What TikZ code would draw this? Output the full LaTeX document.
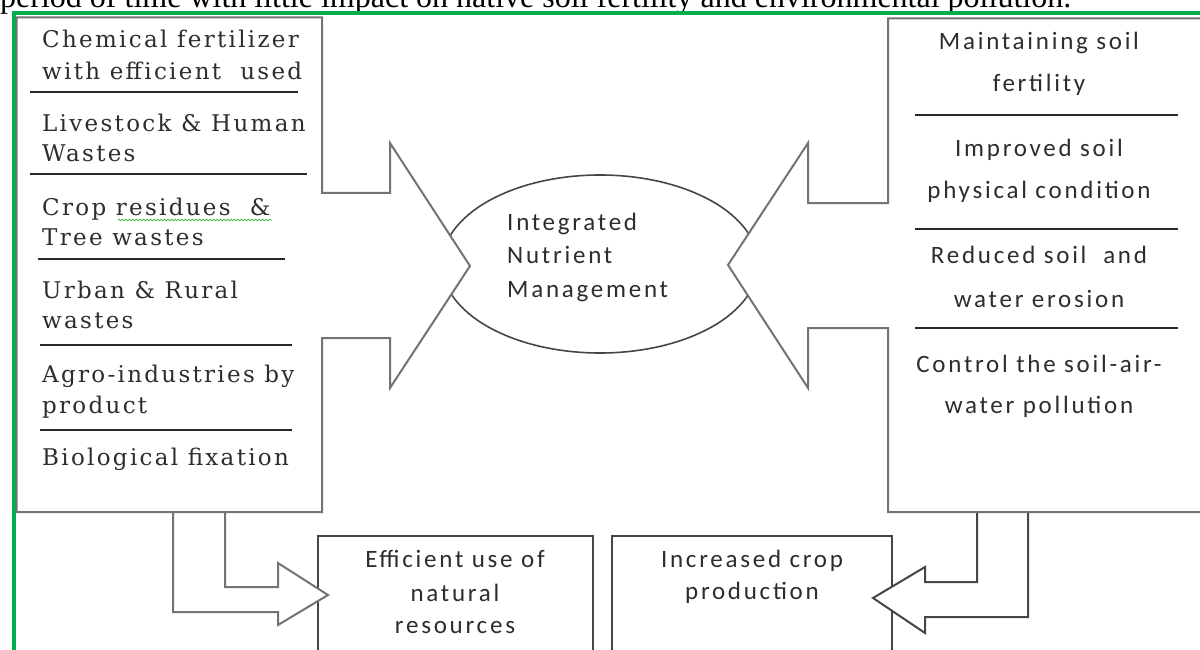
\documentclass[tikz,border=0pt]{standalone}
\usepackage{fontspec}
\setmainfont{Liberation Serif}
\newfontfamily\lserif[LetterSpace=10]{DejaVu Serif}
\newfontfamily\rsans[LetterSpace=11]{Carlito}
\usetikzlibrary{shapes.geometric,decorations.pathmorphing}
\definecolor{frameg}{RGB}{0,176,80}
\definecolor{boxg}{RGB}{115,115,115}
\definecolor{darkg}{RGB}{70,70,70}
\definecolor{sepg}{RGB}{40,40,40}
\definecolor{txtg}{RGB}{45,45,45}
\begin{document}
\begin{tikzpicture}[x=1pt,y=-1pt,
  lt/.style={font=\lserif\fontsize{23}{27}\selectfont, text=txtg, anchor=base west, inner sep=0pt},
  rt/.style={font=\rsans\fontsize{25}{29}\selectfont, text=txtg, anchor=base, inner sep=0pt},
  ct/.style={rt, anchor=base west},
  boxline/.style={draw=boxg, line width=2pt, fill=white, line join=miter},
  dboxline/.style={draw=darkg, line width=2pt, fill=white, line join=miter},
  sepline/.style={draw=sepg, line width=2pt},
  frameline/.style={draw=frameg, line width=3.6pt}]
\useasboundingbox (0,0) rectangle (1200,650);
\clip (0,0) rectangle (1200,650);
% clipped caption line above the frame
\node[font=\fontsize{32}{35}\selectfont, anchor=base west, inner sep=0pt] (cap) at (0,8) {period of time with little impact on native soil fertility and environmental pollution.};
% green frame
\draw[frameline] (13.8,660) -- (13.8,13.3) -- (1210,13.3);
% central ellipse
\node[draw=darkg, line width=1.6pt, ellipse, minimum width=316pt, minimum height=178pt, inner sep=0pt] (inm) at (600,264) {};
% bottom boxes
\draw[dboxline] (318,660) -- (318,536) -- (593,536) -- (593,660);
\draw[dboxline] (612,660) -- (612,536) -- (892,536) -- (892,660);
\coordinate (eff) at (318,536);
\coordinate (inc) at (892,536);
% bent arrows at the bottom
\filldraw[boxline] (173,512) -- (173,612) -- (278,612) -- (278,625) -- (328,595) -- (278,563) -- (278,587) -- (225,587) -- (225,512);
\filldraw[dboxline] (977,512) -- (977,582) -- (925,582) -- (925,567) -- (873,598) -- (925,633) -- (925,617) -- (1028,617) -- (1028,512);
% left box with its block arrow
\filldraw[boxline] (322,193) -- (322,17.3) -- (16.7,17.3) -- (16.7,512) -- (322,512) -- (322,338) -- (390,338) -- (390,388) -- (470,266) -- (390,143) -- (390,193) -- cycle;
% right box with its block arrow
\filldraw[boxline] (888,203) -- (888,18.3) -- (1210,18.3) -- (1210,512) -- (888,512) -- (888,328) -- (808,328) -- (808,388) -- (728,265) -- (808,143) -- (808,203) -- cycle;
% separators, left
\draw[sepline] (30,92) -- (298,92);
\draw[sepline] (30,174) -- (307,174);
\draw[sepline] (38,259) -- (285,259);
\draw[sepline] (40,345) -- (292,345);
\draw[sepline] (40,430) -- (292,430);
% separators, right
\draw[sepline] (915,115) -- (1178,115);
\draw[sepline] (915,229) -- (1178,229);
\draw[sepline] (915,328) -- (1178,328);
% left texts
\node[lt] (l1a) at (42,48) {Chemical fertilizer};
\node[lt] (l1b) at (42,80) {with efficient~ used};
\node[lt] (l2a) at (42,132) {Livestock \& Human};
\node[lt] (l2b) at (42,162) {Wastes};
\node[lt] (l3a) at (42,215) {Crop residues~ \&};
\node[lt] (l3b) at (42,245) {Tree wastes};
\node[lt] (l4a) at (42,298) {Urban \& Rural};
\node[lt] (l4b) at (42,328) {wastes};
\node[lt] (l5a) at (42,382) {Agro-industries by};
\node[lt] (l5b) at (42,413) {product};
\node[lt] (l6a) at (42,465) {Biological fixation};
\draw[decorate, decoration={snake, amplitude=0.8pt, segment length=3.5pt}, draw=green!45!gray, line width=0.8pt] (118,220) -- (272,220);
% right texts
\node[rt] (r1a) at (1039,50) {Maintaining soil};
\node[rt] (r1b) at (1039,92) {fertility};
\node[rt] (r2a) at (1039,157) {Improved soil};
\node[rt] (r2b) at (1039,198) {physical condition};
\node[rt] (r3a) at (1039,263) {Reduced soil~ and};
\node[rt] (r3b) at (1039,307) {water erosion};
\node[rt] (r4a) at (1039,372) {Control the soil-air-};
\node[rt] (r4b) at (1039,413) {water pollution};
% centre texts
\node[ct] (c1) at (507,230) {Integrated};
\node[ct] (c2) at (507,263) {Nutrient};
\node[ct] (c3) at (507,297) {Management};
% bottom texts
\node[rt] (b1a) at (455,567) {Efficient use of};
\node[rt] (b1b) at (455,601) {natural};
\node[rt] (b1c) at (455,633) {resources};
\node[rt] (b2a) at (752,567) {Increased crop};
\node[rt] (b2b) at (752,599) {production};
\end{tikzpicture}
\end{document}
